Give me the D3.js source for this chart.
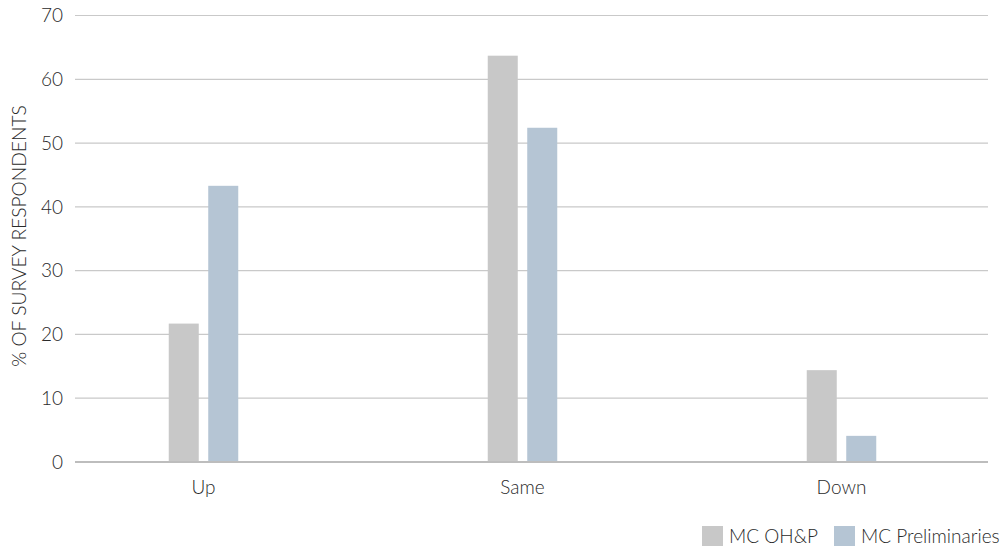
<!DOCTYPE html>
<html><head><meta charset="utf-8">
<script src="https://cdn.jsdelivr.net/npm/d3@7"></script>
<style>
body{margin:0;background:#fff;}
text{font-family:Lato,"Open Sans",sans-serif;fill:#2a2a2a;font-weight:300;}
</style></head>
<body><svg id="c" width="1000" height="549"></svg>
<script>
const categories = ["Up","Same","Down"];
const seriesNames = ["MC OH&P","MC Preliminaries"];
const ohpValues = [21.7, 63.7, 14.4];
const prelimValues = [43.3, 52.4, 4.1];
const yTicks = [0,10,20,30,40,50,60,70];
const colors = ["#c8c8c8","#b5c5d4"];

const svg = d3.select("#c");
const y = d3.scaleLinear().domain([0,70]).range([462,15.5]);
const x = d3.scaleBand().domain(categories).range([44,1001]);
const sub = d3.scaleBand().domain(seriesNames).range([0,69.5]).paddingInner(0.24);

// gridlines
svg.append("g").selectAll("line").data(yTicks.filter(d=>d>0)).join("line")
  .attr("x1",75).attr("x2",988).attr("y1",d=>y(d)).attr("y2",d=>y(d))
  .attr("stroke","#c9c9c9").attr("stroke-width",1.2);

// y tick labels
svg.append("g").selectAll("text").data(yTicks).join("text")
  .attr("x",63).attr("y",d=>y(d)).attr("dy","0.36em")
  .attr("text-anchor","end").attr("font-size",19)
  .text(d=>d);

// bars
const data = categories.map((c,i)=>({c, vals:[ohpValues[i], prelimValues[i]]}));
const g = svg.append("g").selectAll("g").data(data).join("g")
  .attr("transform",d=>`translate(${x(d.c)+x.bandwidth()/2-34.75},0)`);
g.selectAll("rect").data(d=>d.vals.map((v,j)=>({v,s:seriesNames[j],j}))).join("rect")
  .attr("x",d=>sub(d.s)).attr("width",sub.bandwidth())
  .attr("y",d=>y(d.v)).attr("height",d=>y(0)-y(d.v))
  .attr("fill",d=>colors[d.j]);

// baseline
svg.append("line").attr("x1",75).attr("x2",988).attr("y1",y(0)).attr("y2",y(0))
  .attr("stroke","#bdbdbd").attr("stroke-width",2.2);

// x labels
svg.append("g").selectAll("text").data(categories).join("text")
  .attr("x",d=>x(d)+x.bandwidth()/2).attr("y",494)
  .attr("text-anchor","middle").attr("font-size",19)
  .text(d=>d);

// y title
svg.append("text").attr("transform","translate(25.5,236) rotate(-90)")
  .attr("text-anchor","middle").attr("font-size",19.2)
  .text("% OF SURVEY RESPONDENTS");

// legend
const legX = [702, 834];
const leg = svg.append("g").selectAll("g").data(seriesNames).join("g")
  .attr("transform",(d,i)=>`translate(${legX[i]},526)`);
leg.append("rect").attr("width",21).attr("height",20).attr("fill",(d,i)=>colors[i]);
leg.append("text").attr("x",27).attr("y",10.5).attr("dy","0.36em")
  .attr("font-size",19).text(d=>d);
</script></body></html>
